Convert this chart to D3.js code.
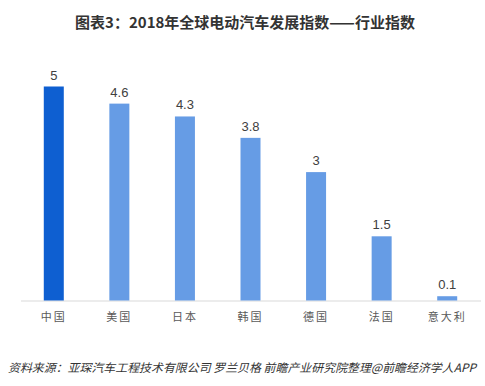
<!DOCTYPE html>
<html>
<head>
<meta charset="utf-8">
<script src="https://cdn.jsdelivr.net/npm/d3@7"></script>
<style>
  body { margin: 0; background: #fff; }
  svg { display: block; }
</style>
</head>
<body>
<script>
const categories = ['中国', '美国', '日本', '韩国', '德国', '法国', '意大利']
const values = [5, 4.6, 4.3, 3.8, 3, 1.5, 0.1]
const labels = ['5', '4.6', '4.3', '3.8', '3', '1.5', '0.1']

const box = { width: 485, height: 386 }
const margin = { left: 21, right: 5, top: 86.5, bottom: 300.5 }
const font = '"Microsoft YaHei", "Noto Sans CJK SC", sans-serif'

const svg = d3.select('body')
  .append('svg')
  .attr('width', box.width)
  .attr('height', box.height)

var x = d3.scaleBand()
  .domain(categories)
  .range([margin.left, box.width - margin.right])
  .paddingInner(0.695)
  .paddingOuter(0.3475)

var y = d3.scaleLinear()
  .domain([0, 5])
  .range([margin.bottom, margin.top])

// title
svg.append('text')
  .attr('x', 245)
  .attr('y', 28)
  .attr('text-anchor', 'middle')
  .style('font-family', font)
  .style('font-size', '15px')
  .style('font-weight', 'bold')
  .style('fill', '#333')
  .text('图表3：2018年全球电动汽车发展指数——行业指数')

// baseline
svg.append('line')
  .attr('x1', margin.left).attr('x2', box.width - margin.right + 1)
  .attr('y1', y(0) + 0.5).attr('y2', y(0) + 0.5)
  .style('stroke', '#d9d9d9')
  .style('stroke-width', 1)

svg.selectAll('rect.bar')
  .data(values)
  .enter()
  .append('rect')
  .attr('class', 'bar')
  .attr('x', (d, i) => x(categories[i]))
  .attr('width', x.bandwidth())
  .attr('y', d => y(d))
  .attr('height', d => y(0) - y(d))
  .style('fill', (d, i) => i === 0 ? '#0e5fd1' : '#669ce5')

svg.selectAll('text.val')
  .data(values)
  .enter()
  .append('text')
  .attr('class', 'val')
  .attr('x', (d, i) => x(categories[i]) + x.bandwidth() / 2)
  .attr('y', d => y(d) - 7)
  .attr('text-anchor', 'middle')
  .style('font-family', 'Arial, "Liberation Sans", sans-serif')
  .style('font-size', '13px')
  .style('fill', '#404040')
  .text((d, i) => labels[i])

svg.selectAll('text.cat')
  .data(categories)
  .enter()
  .append('text')
  .attr('class', 'cat')
  .attr('x', d => x(d) + x.bandwidth() / 2)
  .attr('y', 321)
  .attr('text-anchor', 'middle')
  .style('font-family', font)
  .style('font-size', '11px')
  .style('letter-spacing', '2px')
  .style('fill', '#595959')
  .text(d => d)

// source
svg.append('text')
  .attr('x', 8)
  .attr('y', 372)
  .attr('textLength', 468)
  .attr('lengthAdjust', 'spacingAndGlyphs')
  .style('font-family', font)
  .style('font-size', '11.5px')
  .style('font-style', 'italic')
  .style('fill', '#333')
  .text('资料来源：亚琛汽车工程技术有限公司 罗兰贝格 前瞻产业研究院整理@前瞻经济学人APP')
</script>
</body>
</html>
